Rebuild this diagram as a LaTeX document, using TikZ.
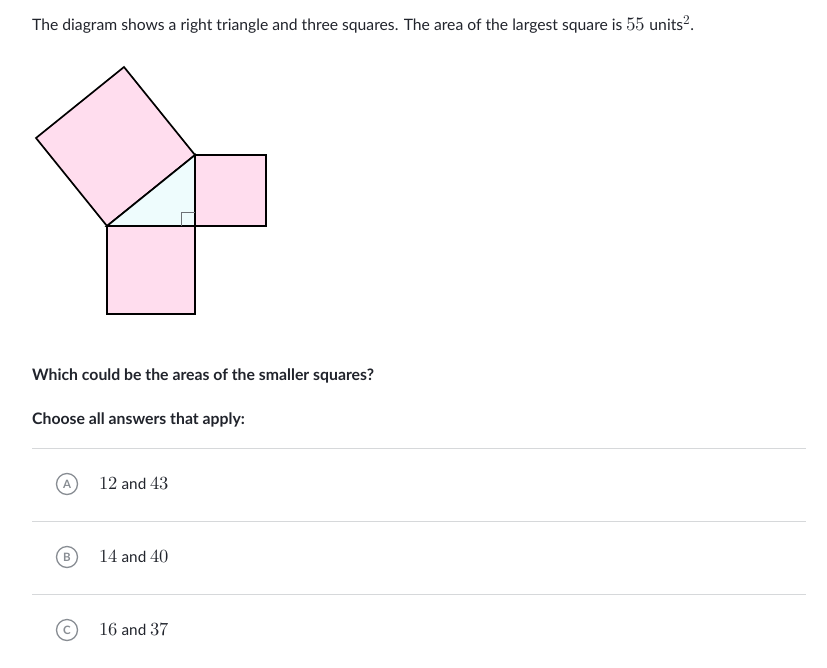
\documentclass[tikz,border=0pt]{standalone}
\usepackage{fontspec}
\usepackage{unicode-math}
\setmainfont{Lato}
\setmathfont{Latin Modern Math}
\usepackage{xcolor}
\definecolor{txt}{HTML}{21242C}
\definecolor{sqpink}{HTML}{FFDDEE}
\definecolor{tricyan}{HTML}{EEFCFD}
\definecolor{rulegray}{HTML}{D6D8DA}
\definecolor{circgray}{HTML}{888D93}
\newcommand{\kmath}[1]{\scalebox{1.21}{$#1$}}

\begin{document}
\begin{tikzpicture}[x=1pt,y=-1pt,every node/.style={inner sep=0pt,text=txt},
    sq/.style={draw=black,line width=1.7pt,fill=sqpink,line join=miter},
    rule/.style={draw=rulegray,line width=0.8pt},
    letter/.style={circle,draw=circgray,line width=1.3pt,minimum size=21pt,text=circgray,font=\fontsize{11.5}{11.5}\selectfont\bfseries},
    txtline/.style={anchor=base west,font=\fontsize{15.8}{18}\selectfont},
    choice/.style={anchor=base west,font=\fontsize{15.3}{18}\selectfont}]
  \useasboundingbox[fill=white] (0,0) rectangle (827,667);
  \node[txtline,font=\fontsize{15.7}{18}\selectfont] (intro) at (32,30) {The diagram shows a right triangle and three squares. The area of the largest square is \kmath{55} units$^{\scalebox{1.21}{$\scriptstyle 2$}}$.};
  % the triangle and its squares
  \coordinate (A) at (107,226);
  \coordinate (C) at (195,226);
  \coordinate (B) at (195,155);
  \draw[sq] (A) -- (B) -- ++(-71,-88) coordinate (B2) -- ++(-88,71) coordinate (A2) -- cycle;
  \draw[sq] (A) -- (C) -- ++(0,88) coordinate (C3) -- ++(-88,0) coordinate (A3) -- cycle;
  \draw[sq] (C) -- (B) -- ++(71,0) coordinate (B4) -- ++(0,71) coordinate (C4) -- cycle;
  \draw[line width=1.7pt,fill=tricyan,line join=miter] (A) -- (C) -- (B) -- cycle;
  \draw[circgray!80!black,line width=0.9pt] ([xshift=-14pt]C) -- ++(0,-14) -- ++(14,0);
  % the questions
  \node[txtline,font=\fontsize{15.8}{18}\selectfont\bfseries] (ask) at (32,380) {Which could be the areas of the smaller squares?};
  \node[txtline,font=\fontsize{15.8}{18}\selectfont\bfseries] (choose) at (32,424) {Choose all answers that apply:};
  \foreach \y in {448,521,594}
    \draw[rule] (32,\y) -- (806,\y);
  \node[letter] (la) at (67,484) {A};
  \node[letter] (lb) at (67,557) {B};
  \node[letter] (lc) at (67,630) {C};
  \node[choice] (ca) at (99,489) {\kmath{12} and \kmath{43}};
  \node[choice] (cb) at (99,562) {\kmath{14} and \kmath{40}};
  \node[choice] (cc) at (99,635) {\kmath{16} and \kmath{37}};
\end{tikzpicture}
\end{document}
